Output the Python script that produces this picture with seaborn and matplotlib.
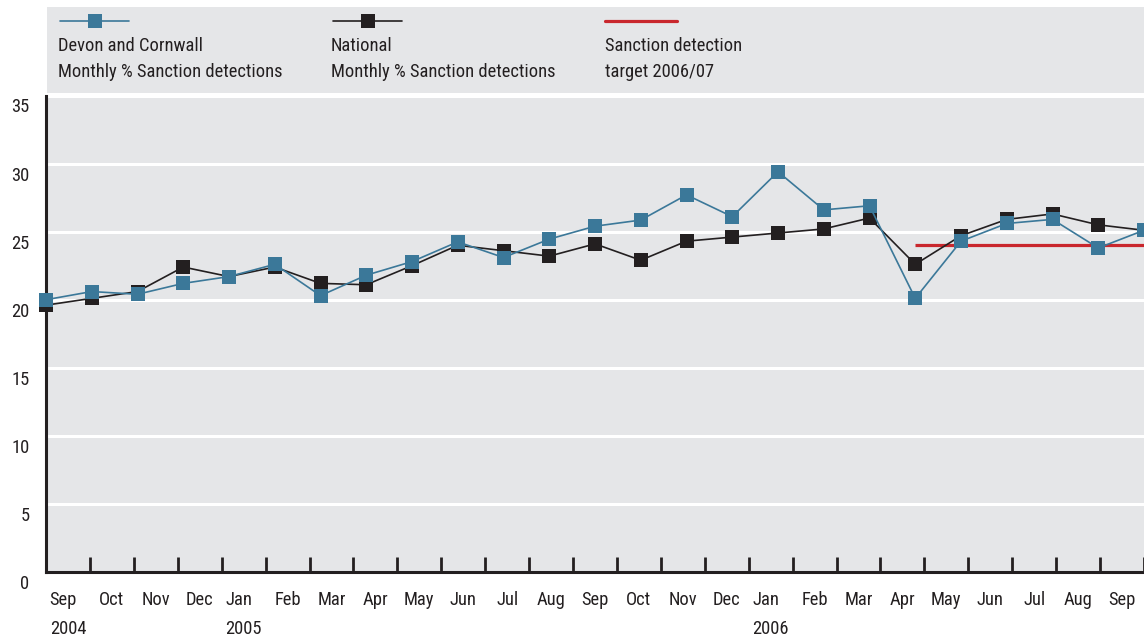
import matplotlib
matplotlib.use("Agg")
import matplotlib.pyplot as plt
from matplotlib import font_manager
from matplotlib.transforms import ScaledTranslation
import numpy as np
import pandas as pd
import seaborn as sns

# Monthly sanction detection rates, Sep 2004 - Sep 2006
months = ["Sep", "Oct", "Nov", "Dec", "Jan", "Feb", "Mar", "Apr", "May", "Jun", "Jul", "Aug",
          "Sep", "Oct", "Nov", "Dec", "Jan", "Feb", "Mar", "Apr", "May", "Jun", "Jul", "Aug", "Sep"]
years = {0: "2004", 4: "2005", 16: "2006"}
devon_cornwall = [20.0, 20.6, 20.4, 21.2, 21.7, 22.6, 20.3, 21.8, 22.8, 24.25, 23.1, 24.45,
                  25.4, 25.85, 27.7, 26.1, 29.4, 26.6, 26.9, 20.1, 24.3, 25.6, 25.9, 23.8, 25.1]
national = [19.6, 20.1, 20.6, 22.4, 21.7, 22.4, 21.2, 21.1, 22.5, 24.0, 23.6, 23.2,
            24.1, 22.9, 24.3, 24.6, 24.9, 25.2, 26.0, 22.6, 24.7, 25.9, 26.3, 25.5, 25.1]
target_value = 24.0
target_start, target_end = 19, 24   # Apr 2006 onward
y_ticks = [0, 5, 10, 15, 20, 25, 30, 35]

legend_labels = ["Devon and Cornwall\nMonthly % Sanction detections",
                 "National\nMonthly % Sanction detections",
                 "Sanction detection\ntarget 2006/07"]

BLUE = "#3b7899"
BLACK = "#231f20"
RED = "#c9272d"
PANEL = "#e5e6e8"

sns.set_theme(style="white")

# pick a narrow face if one is available
names = {f.name for f in font_manager.fontManager.ttflist}
narrow = [f for f in ["Liberation Sans Narrow", "Arial Narrow", "Roboto Condensed",
                      "Open Sans Condensed", "DejaVu Sans Condensed"] if f in names]
cond_dejavu = any(f.name == "DejaVu Sans" and f.stretch == "condensed"
                  for f in font_manager.fontManager.ttflist)
if narrow:
    plt.rcParams["font.family"] = [narrow[0], "DejaVu Sans"]
    FS = 13.3
else:
    plt.rcParams["font.family"] = ["DejaVu Sans"]
    if cond_dejavu:
        plt.rcParams["font.stretch"] = "condensed"
    FS = 12.5
plt.rcParams["font.size"] = FS
plt.rcParams["text.color"] = BLACK

W, H = 1144, 636
fig = plt.figure(figsize=(W / 100, H / 100), dpi=100)
fig.patch.set_facecolor("white")

# main plotting area
ax = fig.add_axes([46 / W, (H - 572) / H, (W - 46) / W, (572 - 95.5) / H])
ax.set_facecolor(PANEL)

n = len(months)
df = pd.DataFrame({"idx": np.arange(n), "dc": devon_cornwall, "nat": national})

ax.plot([target_start, target_end + 1], [target_value, target_value],
        color=RED, lw=2.3, zorder=2, solid_capstyle="butt")
sns.lineplot(data=df, x="idx", y="nat", ax=ax, color=BLACK, lw=1.2, marker="s",
             markersize=10, markeredgewidth=0, clip_on=False, zorder=3)
sns.lineplot(data=df, x="idx", y="dc", ax=ax, color=BLUE, lw=1.2, marker="s",
             markersize=10, markeredgewidth=0, clip_on=False, zorder=4)

ax.set_xlim(0, n - 1)
ax.set_ylim(0, 35)
ax.set_xlabel("")
ax.set_ylabel("")

# horizontal white grid
ax.set_yticks(y_ticks)
ax.yaxis.grid(True, color="white", lw=2.2)
ax.xaxis.grid(False)
ax.set_axisbelow(True)
ax.tick_params(axis="y", length=0, pad=12, labelsize=FS, labelcolor=BLACK)
offset = ScaledTranslation(0, -10 / 100, fig.dpi_scale_trans)
for lab in ax.get_yticklabels():
    lab.set_transform(lab.get_transform() + offset)

# month boundaries as tick marks, labels centred between them
span = (n - 1) / n
ax.set_xticks([k * span for k in range(n + 1)])
ax.set_xticklabels([])
ax.tick_params(axis="x", which="major", direction="in", length=11, width=2,
               color=BLACK, bottom=True)
ax.set_xticks([(k + 0.5) * span for k in range(n)], minor=True)
ax.set_xticklabels([m + ("\n" + years[k] if k in years else "") for k, m in enumerate(months)],
                   minor=True, multialignment="left", linespacing=1.75, va="top")
ax.tick_params(axis="x", which="minor", length=0, pad=14, labelsize=FS, labelcolor=BLACK)

for side in ["top", "right"]:
    ax.spines[side].set_visible(False)
for side in ["left", "bottom"]:
    ax.spines[side].set_color(BLACK)
    ax.spines[side].set_linewidth(2.2)
ax.spines["bottom"].set_zorder(5)

# legend panel above the plot
lax = fig.add_axes([47 / W, (H - 93) / H, (W - 47) / W, 86 / H])
lax.set_facecolor(PANEL)
lax.set_xlim(0, W - 47)
lax.set_ylim(86, 0)
lax.set_xticks([])
lax.set_yticks([])
for s in lax.spines.values():
    s.set_visible(False)

items = [(11, BLUE, True), (284, BLACK, True), (558, RED, False)]
for (x0, col, has_marker), label in zip(items, legend_labels):
    if has_marker:
        lax.plot([x0 + 2, x0 + 71], [14, 14], color=col, lw=1.2)
        lax.plot([x0 + 37], [14], marker="s", markersize=10, color=col, markeredgewidth=0)
    else:
        lax.plot([x0, x0 + 72], [14, 14], color=col, lw=2.3)
    lax.text(x0, 52, label, ha="left", va="center", fontsize=FS, linespacing=1.55,
             color=BLACK)

fig.savefig("out.png", dpi=100, facecolor="white")
